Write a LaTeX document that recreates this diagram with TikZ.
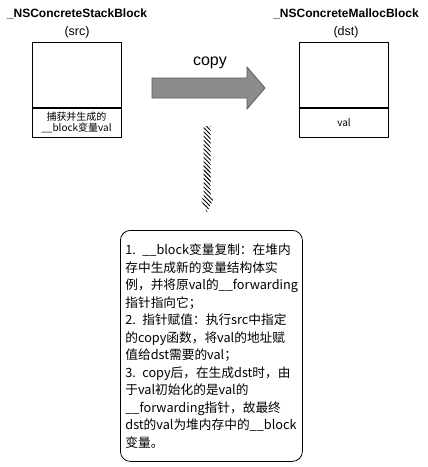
\documentclass[tikz,border=0pt]{standalone}
\usepackage{fontspec}
\setmainfont{Liberation Sans}
\newfontfamily\cjk{Noto Sans CJK SC}
\usetikzlibrary{patterns.meta}

\begin{document}
\begin{tikzpicture}[x=1pt,y=1pt]
    \tikzstyle{every node}+=[inner sep=0pt]
    \tikzstyle{part}=[draw=black, line width=0.8pt, minimum width=89pt, anchor=north]
    \tikzstyle{title}=[font=\bfseries\fontsize{12}{14}\selectfont]
    \tikzstyle{subtitle}=[font=\fontsize{12.5}{14}\selectfont]
    \tikzstyle{small}=[font=\cjk\fontsize{10}{11.5}\selectfont, align=center]
    \fill [white] (0,0) rectangle (428,-467);
    \useasboundingbox (0,0) rectangle (428,-467);
    % src block
    \node [title] (srcName) at (77,-14) {\_NSConcreteStackBlock};
    \node [subtitle] (srcTag) at (77,-32) {(src)};
    \node [part, minimum height=65pt] (srcTop) at (76.5,-42) {};
    \node [part, minimum height=29pt, small] (srcBottom) at (srcTop.south) {捕获并生成的\\\_\_block变量val};
    % dst block
    \node [title] (dstName) at (346,-14) {\_NSConcreteMallocBlock};
    \node [subtitle] (dstTag) at (346,-32) {(dst)};
    \node [part, minimum height=65pt] (dstTop) at (344,-42) {};
    \node [part, minimum height=29pt, small] (dstBottom) at (dstTop.south) {val};
    % copy arrow
    \draw [fill=black!45, draw=black!65, line width=0.8pt] (152,-78) -- (247,-78) -- (247,-67) -- (265,-88)
        -- (247,-109) -- (247,-98) -- (152,-98) -- cycle;
    \node [font=\fontsize{16}{18}\selectfont] (copyLabel) at (210,-63) {copy};
    % hatched arrow
    \coordinate (hatchTop) at (207,-126);
    \coordinate (hatchTip) at (207,-212);
    \fill [pattern={Lines[angle=-45,distance=3pt,line width=0.9pt]}] (hatchTop) ++(-3.5,0) -- ++(0,-72)
        -- ++(-3.5,0) -- (hatchTip) -- ++(7,14) -- ++(-3.5,0) -- ++(0,72) -- cycle;
    % note
    \node [draw=black, line width=0.8pt, rounded corners=10pt, minimum width=182pt, minimum height=231pt,
        text width=172pt, align=left, anchor=north west, font=\cjk\fontsize{12.7}{17.5}\selectfont]
        (note) at (120,-230) {1. \_\_block变量复制：在堆内\\
存中生成新的变量结构体实\\
例，并将原val的\_\_forwarding\\
指针指向它；\\
2. 指针赋值：执行src中指定\\
的copy函数，将val的地址赋\\
值给dst需要的val；\\
3. copy后，在生成dst时，由\\
于val初始化的是val的\\
\_\_forwarding指针，故最终\\
dst的val为堆内存中的\_\_block\\
变量。};
\end{tikzpicture}
\end{document}
